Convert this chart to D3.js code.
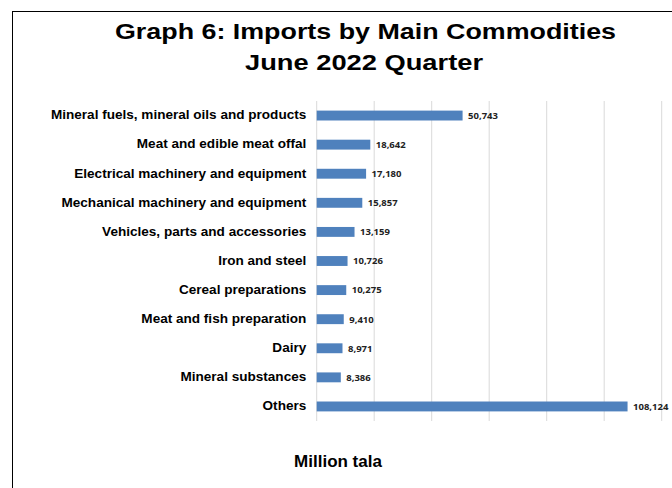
<!DOCTYPE html>
<html lang="en">
<head>
    <meta charset="UTF-8">
    <title>Graph 6: Imports by Main Commodities</title>
    <script src="https://d3js.org/d3.v7.min.js"></script>
    <style>
        body { margin: 0; background: #fff; }
        .title { font: bold 22px "Liberation Sans", Arial, sans-serif; }
        .cat text { font: bold 12px "Liberation Sans", Arial, sans-serif; }
        .value { font: bold 9.5px "Open Sans", "DejaVu Sans", sans-serif; fill: #222; }
        .grid line { stroke: #d9d9d9; stroke-width: 1px; }
        .xlabel { font: bold 17px "Liberation Sans", Arial, sans-serif; }
    </style>
</head>
<body>
<script>
    var width = 672, height = 488;

    var categories = [
        "Mineral fuels, mineral oils and products",
        "Meat and edible meat offal",
        "Electrical machinery and equipment",
        "Mechanical machinery and equipment",
        "Vehicles, parts and accessories",
        "Iron and steel",
        "Cereal preparations",
        "Meat and fish preparation",
        "Dairy",
        "Mineral substances",
        "Others"
    ];

    var values = [50743, 18642, 17180, 15857, 13159, 10726, 10275, 9410, 8971, 8386, 108124];

    var gridTicks = [0, 20000, 40000, 60000, 80000, 100000, 120000];

    var svg = d3.select("body").append("svg")
        .attr("width", width)
        .attr("height", height);

    // chart frame
    svg.append("rect")
        .attr("x", 12.5).attr("y", 11.5)
        .attr("width", 680).attr("height", 500)
        .attr("fill", "none")
        .attr("stroke", "#000")
        .attr("stroke-width", 1);

    // the picture is a little stretched sideways, so the titles get fixed widths
    svg.append("text").attr("class", "title")
        .attr("x", 365.5).attr("y", 39)
        .attr("text-anchor", "middle")
        .attr("textLength", 501).attr("lengthAdjust", "spacingAndGlyphs")
        .text("Graph 6: Imports by Main Commodities");
    svg.append("text").attr("class", "title")
        .attr("x", 364).attr("y", 70)
        .attr("text-anchor", "middle")
        .attr("textLength", 238).attr("lengthAdjust", "spacingAndGlyphs")
        .text("June 2022 Quarter");

    var x = d3.scaleLinear().domain([0, 120000]).range([316.7, 661.7]);
    var y = d3.scaleBand().domain(categories).range([101, 421]).paddingInner(0.66).paddingOuter(0.33);

    svg.append("g").attr("class", "grid")
        .selectAll("line")
        .data(gridTicks)
        .enter().append("line")
        .attr("x1", function(d) { return x(d); })
        .attr("x2", function(d) { return x(d); })
        .attr("y1", 101)
        .attr("y2", 421);

    var labelRight = x(0) - 12;
    var yAxis = svg.append("g").attr("class", "cat")
        .attr("transform", "translate(" + labelRight + ",0) scale(1.13,1) translate(" + (x(0) - labelRight) + ",0)")
        .call(d3.axisLeft(y).tickSize(0).tickPadding(12 / 1.13));
    yAxis.select(".domain").remove();
    yAxis.selectAll("text").attr("fill", "#000");

    svg.append("g")
        .selectAll("rect")
        .data(values)
        .enter().append("rect")
        .attr("x", x(0))
        .attr("y", function(d, i) { return y(categories[i]); })
        .attr("width", function(d) { return x(d) - x(0); })
        .attr("height", y.bandwidth())
        .attr("fill", "#4f81bd");

    svg.append("g")
        .selectAll("text")
        .data(values)
        .enter().append("text")
        .attr("class", "value")
        .attr("x", function(d) { return x(d) + 5.5; })
        .attr("y", function(d, i) { return y(categories[i]) + y.bandwidth() / 2; })
        .attr("dy", "0.35em")
        .text(function(d) { return d3.format(",")(d); });

    svg.append("text").attr("class", "xlabel")
        .attr("x", 338).attr("y", 467)
        .attr("text-anchor", "middle")
        .text("Million tala");
</script>
</body>
</html>
